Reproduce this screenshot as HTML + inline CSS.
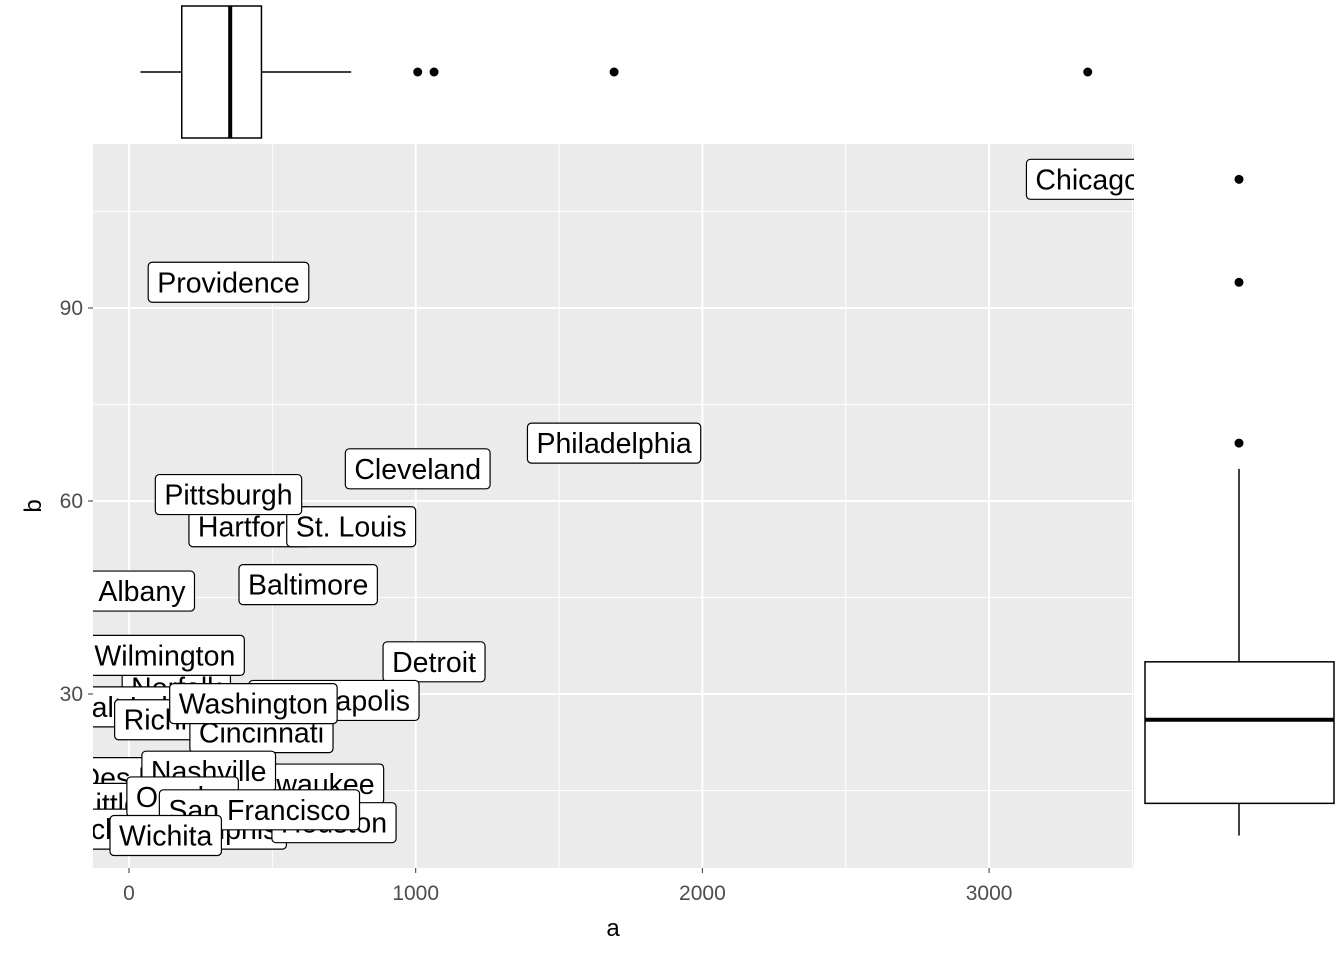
<!DOCTYPE html>
<html><head><meta charset="utf-8">
<style>
html,body{margin:0;padding:0;background:#fff;}
svg{display:block;font-family:"Liberation Sans",Arial,sans-serif;}
</style></head>
<body>
<svg id="chart" width="1344" height="960">
  <defs><clipPath id="panelClip"><rect x="93" y="144" width="1041" height="724"/></clipPath></defs>
  <rect x="93" y="144" width="1041" height="724" fill="#ebebeb"/>
  <g id="grid"></g>
  <g id="labels" clip-path="url(#panelClip)"></g>
  <g id="axes"></g>
  <g id="margins"></g>
  <text x="613" y="936" font-size="24" text-anchor="middle" fill="#000">a</text>
  <text x="0" y="0" font-size="24" text-anchor="middle" fill="#000" transform="translate(41,506) rotate(-90)">b</text>
</svg>
<script>
const cities = ["Providence","Philadelphia","Cleveland","Hartford","St. Louis","Pittsburgh","Albany","Baltimore","Detroit","Norfolk","Minneapolis","Salt Lake City","Richmond","Wilmington","Cincinnati","Washington","Des Moines","Milwaukee","Nashville","Little Rock","Jacksonville","Memphis","Houston","Omaha","San Francisco","Wichita","Chicago"];
const aVals = [347,1692,1007,420,775,347,45,625,1064,165,715,110,205,125,462,434,90,622,278,60,30,316,715,187,455,128,3344];
const bVals = [94,69,65,56,56,61,46,47,35,31,29,28,26,36,24,28.5,17,16,18,13,9,9,10,14,12,8,110];
const xTicks = [0,1000,2000,3000];
const yTicks = [30,60,90];
// boxplot stats (lower whisker, q1, median, q3, upper whisker)
const aBox = [40, 184, 353, 462, 775];
const aOutliers = [1007, 1064, 1692, 3344];
const bBox = [8, 13, 26, 35, 65];
const bOutliers = [69, 94, 110];

const NS="http://www.w3.org/2000/svg";
const X0=93,X1=1134,Y0=144,Y1=868;
const xs = v => 129 + v*0.2867;
const ys = v => 501 - (v-60)*6.4333;
function mk(tag, attrs, parent){const e=document.createElementNS(NS,tag);for(const k in attrs)e.setAttribute(k,attrs[k]);parent.appendChild(e);return e;}
const grid=document.getElementById('grid'), axes=document.getElementById('axes'), labels=document.getElementById('labels'), margins=document.getElementById('margins');

for(let i=0;i<xTicks.length;i++){const m=xTicks[i]+500; if(xs(m)<X1){const l=mk('line',{x1:xs(m),x2:xs(m),y1:Y0,y2:Y1,stroke:'#fff','stroke-width':1},grid);}}
for(const m of [15,45,75,105]){const l=mk('line',{x1:X0,x2:X1,y1:ys(m),y2:ys(m),stroke:'#fff','stroke-width':1},grid);}
for(const t of xTicks){
  const l=mk('line',{x1:xs(t),x2:xs(t),y1:Y0,y2:Y1,stroke:'#fff','stroke-width':2},grid);
  
  const tk=mk('line',{x1:xs(t),x2:xs(t),y1:Y1,y2:Y1+5,stroke:'#333','stroke-width':1},axes);
  
  const tx=mk('text',{x:xs(t),y:900,'font-size':21,'text-anchor':'middle',fill:'#4d4d4d'},axes);tx.textContent=t;
  
}
for(const t of yTicks){
  const l=mk('line',{x1:X0,x2:X1,y1:ys(t),y2:ys(t),stroke:'#fff','stroke-width':2},grid);
  
  const tk=mk('line',{x1:X0-5,x2:X0,y1:ys(t),y2:ys(t),stroke:'#333','stroke-width':1},axes);
  
  const tx=mk('text',{x:X0-10,y:ys(t)+7,'font-size':21,'text-anchor':'end',fill:'#4d4d4d'},axes);tx.textContent=t;
  
}
for(let i=0;i<cities.length;i++){
  const cx=xs(aVals[i]), cy=ys(bVals[i]);
  const g=mk('g',{},labels);
  
  
  const r=mk('rect',{y:cy-20,height:40,rx:4,fill:'#fff',stroke:'#000','stroke-width':1.2},g);
  const t=mk('text',{x:cx,y:cy+10,'font-size':28.5,'text-anchor':'middle',fill:'#000'},g);
  t.textContent=cities[i];
  const w=t.getComputedTextLength();
  r.setAttribute('x',cx-w/2-9);r.setAttribute('width',w+18);
}
const ty=72;
function ln(x1,y1,x2,y2,name,w){const l=mk('line',{x1,y1,x2,y2,stroke:'#000','stroke-width':w||1.5},margins);}
ln(xs(aBox[0]),ty,xs(aBox[1]),ty,'top-whisker-lower');
ln(xs(aBox[3]),ty,xs(aBox[4]),ty,'top-whisker-upper');
const tb=mk('rect',{x:xs(aBox[1]),y:6,width:xs(aBox[3])-xs(aBox[1]),height:132,fill:'#fff',stroke:'#000','stroke-width':1.5},margins);

ln(xs(aBox[2]),6,xs(aBox[2]),138,'top-median',4);
for(const o of aOutliers){const c=mk('circle',{cx:xs(o),cy:ty,r:4.5,fill:'#000'},margins);}
const rx=1239;
ln(rx,ys(bBox[0]),rx,ys(bBox[1]),'right-whisker-lower');
ln(rx,ys(bBox[3]),rx,ys(bBox[4]),'right-whisker-upper');
const rb=mk('rect',{x:1145,y:ys(bBox[3]),width:189,height:ys(bBox[1])-ys(bBox[3]),fill:'#fff',stroke:'#000','stroke-width':1.5},margins);

ln(1145,ys(bBox[2]),1334,ys(bBox[2]),'right-median',4);
for(const o of bOutliers){const c=mk('circle',{cx:rx,cy:ys(o),r:4.5,fill:'#000'},margins);}
</script>
</body></html>
